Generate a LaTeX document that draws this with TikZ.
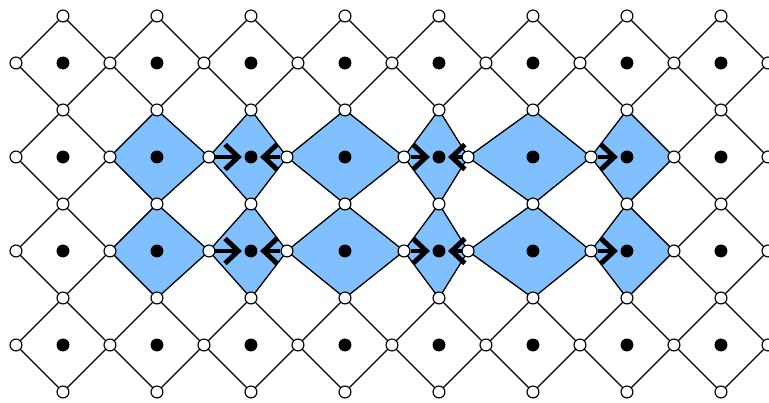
\documentclass[tikz,border=0pt]{standalone}
\usetikzlibrary{arrows.meta}
\begin{document}
\begin{tikzpicture}[x=1cm,y=-1cm]
    \definecolor{borderColour}{HTML}{000000}
    \definecolor{fillColourB}{HTML}{80C0FF}
    \tikzset{
        cellLine/.style={draw=borderColour, line width=0.35pt},
        site/.style={circle, draw=borderColour, fill=white, line width=0.35pt, inner sep=0pt, minimum size=3.6pt},
        charge/.style={circle, fill=black, inner sep=0pt, minimum size=3.9pt},
        push/.style={line width=1.5pt, -{Straight Barb[length=4pt,width=7.5pt]}, shorten >=0.6pt}
    }
    \useasboundingbox (-0.67,-0.67) rectangle (7.511,3.607);

    % Horizontal vertex positions: plain rows and shifted rows
    \def\plainX{-0.5,0.5,1.5,2.5,3.5,4.5,5.5,6.5,7.5}
    \def\shiftX{-0.5,0.5,1.553,2.383,3.628,4.309,5.617,6.5,7.5}
    \foreach \j in {0,3}
        \foreach \x [count=\k from 0] in \plainX
            \coordinate (h-\k-\j) at (\x,\j);
    \foreach \j in {1,2}
        \foreach \x [count=\k from 0] in \shiftX
            \coordinate (h-\k-\j) at (\x,\j);

    % Vertical vertex positions
    \foreach \i in {0,...,7}
        \foreach \m in {0,...,4}
            \coordinate (v-\i-\m) at (\i,\m-0.5);

    % Draw white cells
    \foreach \j in {0,...,3}
        \foreach \i in {0,...,7} {
            \pgfmathtruncatemacro\rk{\i+1}
            \pgfmathtruncatemacro\lj{\j+1}
            \draw[cellLine] (v-\i-\j) -- (h-\rk-\j) -- (v-\i-\lj) -- (h-\i-\j) -- cycle;
        }

    % Draw blue cells of the two middle rows
    \foreach \j in {1,2}
        \foreach \i in {1,...,6} {
            \pgfmathtruncatemacro\rk{\i+1}
            \pgfmathtruncatemacro\lj{\j+1}
            \filldraw[cellLine, fill=fillColourB] (v-\i-\j) -- (h-\rk-\j) -- (v-\i-\lj) -- (h-\i-\j) -- cycle;
        }

    % Sites and charges
    \foreach \j in {0,...,3}
        \foreach \k in {0,...,8}
            \node[site] (sh-\k-\j) at (h-\k-\j) {};
    \foreach \i in {0,...,7}
        \foreach \m in {0,...,4}
            \node[site] (sv-\i-\m) at (v-\i-\m) {};
    \foreach \i in {0,...,7}
        \foreach \j in {0,...,3}
            \node[charge] (q-\i-\j) at (\i,\j) {};

    % Displacement arrows
    \foreach \j in {1,2} {
        \draw[push] (sh-2-\j) -- (q-2-\j);
        \draw[push] (sh-3-\j) -- (q-2-\j);
        \draw[push] (sh-4-\j) -- (q-4-\j);
        \draw[push] (sh-5-\j) -- (q-4-\j);
        \draw[push] (sh-6-\j) -- (q-6-\j);
    }

\end{tikzpicture}
\end{document}
